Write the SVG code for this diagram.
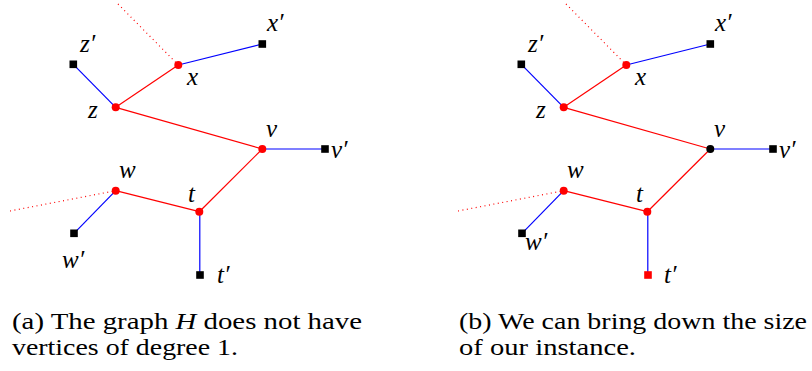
<svg xmlns="http://www.w3.org/2000/svg" width="812" height="371" viewBox="0 0 812 371">
<style>
.r{stroke:#ff0000;stroke-width:1.2;fill:none}
.b{stroke:#0000ff;stroke-width:1.2;fill:none}
.d{stroke:#ff0000;stroke-width:1.2;stroke-dasharray:1 3.5;fill:none}
.vn{fill:#ff0000}
.lf{fill:#000}
</style>
<rect width="812" height="371" fill="#fff"/>
<g id="panel-a">
<g id="edges-a">
<line class="d" x1="118" y1="4" x2="178.3" y2="65"/>
<line class="d" x1="10" y1="211" x2="115.7" y2="190.7"/>
<line class="b" x1="178.3" y1="65" x2="262.3" y2="44"/>
<line class="b" x1="73.3" y1="64.3" x2="115.7" y2="107.3"/>
<line class="r" x1="115.7" y1="107.3" x2="178.3" y2="65"/>
<line class="r" x1="115.7" y1="107.3" x2="262.3" y2="149"/>
<line class="b" x1="262.3" y1="149" x2="325" y2="149"/>
<line class="r" x1="262.3" y1="149" x2="199.3" y2="211.7"/>
<line class="r" x1="115.7" y1="190.7" x2="199.3" y2="211.7"/>
<line class="b" x1="115.7" y1="190.7" x2="74" y2="233.3"/>
<line class="b" x1="199.8" y1="211.7" x2="199.8" y2="275"/>
</g>
<g id="a-x"><circle class="vn" cx="178.3" cy="65" r="4"/><text x="187" y="85" font-family="Liberation Serif" font-style="italic" font-size="25">x</text></g>
<g id="a-xp"><rect class="lf" x="258.5" y="40.2" width="7.6" height="7.6"/><text x="267" y="31" font-family="Liberation Serif" font-style="italic" font-size="25">x′</text></g>
<g id="a-z"><circle class="vn" cx="115.7" cy="107.3" r="4"/><text x="88" y="118" font-family="Liberation Serif" font-style="italic" font-size="25">z</text></g>
<g id="a-zp"><rect class="lf" x="69.5" y="60.5" width="7.6" height="7.6"/><text x="80" y="52" font-family="Liberation Serif" font-style="italic" font-size="25">z′</text></g>
<g id="a-v"><circle class="vn" cx="262.3" cy="149" r="4"/><text x="266" y="137" font-family="Liberation Serif" font-style="italic" font-size="25">v</text></g>
<g id="a-vp"><rect class="lf" x="321.2" y="145.2" width="7.6" height="7.6"/><text x="331" y="158" font-family="Liberation Serif" font-style="italic" font-size="25">v′</text></g>
<g id="a-w"><circle class="vn" cx="115.7" cy="190.7" r="4"/><text x="119" y="178" font-family="Liberation Serif" font-style="italic" font-size="25">w</text></g>
<g id="a-wp"><rect class="lf" x="70.2" y="229.5" width="7.6" height="7.6"/><text x="62" y="268" font-family="Liberation Serif" font-style="italic" font-size="25">w′</text></g>
<g id="a-t"><circle class="vn" cx="199.3" cy="211.7" r="4"/><text x="188" y="202" font-family="Liberation Serif" font-style="italic" font-size="25">t</text></g>
<g id="a-tp"><rect class="lf" x="196.2" y="271.2" width="7.6" height="7.6"/><text x="217" y="283" font-family="Liberation Serif" font-style="italic" font-size="25">t′</text></g>
<g id="caption-a">
<text x="12" y="329" font-family="Liberation Serif" font-size="24" textLength="350" lengthAdjust="spacingAndGlyphs">(a) The graph <tspan font-style="italic">H</tspan> does not have</text>
<text x="12" y="355" font-family="Liberation Serif" font-size="24" textLength="226" lengthAdjust="spacingAndGlyphs">vertices of degree 1.</text>
</g>
</g>
<g id="panel-b">
<g id="edges-b">
<line class="d" x1="566" y1="4" x2="626.3" y2="65"/>
<line class="d" x1="458" y1="211" x2="563.7" y2="190.7"/>
<line class="b" x1="626.3" y1="65" x2="710.3" y2="44"/>
<line class="b" x1="521.3" y1="64.3" x2="563.7" y2="107.3"/>
<line class="r" x1="563.7" y1="107.3" x2="626.3" y2="65"/>
<line class="r" x1="563.7" y1="107.3" x2="710.3" y2="149"/>
<line class="b" x1="710.3" y1="149" x2="773" y2="149"/>
<line class="r" x1="710.3" y1="149" x2="647.3" y2="211.7"/>
<line class="r" x1="563.7" y1="190.7" x2="647.3" y2="211.7"/>
<line class="b" x1="563.7" y1="190.7" x2="522" y2="233.3"/>
<line class="b" x1="647.8" y1="211.7" x2="647.8" y2="275"/>
</g>
<g id="b-x"><circle class="vn" cx="626.3" cy="65" r="4"/><text x="635" y="85" font-family="Liberation Serif" font-style="italic" font-size="25">x</text></g>
<g id="b-xp"><rect class="lf" x="706.5" y="40.2" width="7.6" height="7.6"/><text x="715" y="31" font-family="Liberation Serif" font-style="italic" font-size="25">x′</text></g>
<g id="b-z"><circle class="vn" cx="563.7" cy="107.3" r="4"/><text x="536" y="118" font-family="Liberation Serif" font-style="italic" font-size="25">z</text></g>
<g id="b-zp"><rect class="lf" x="517.5" y="60.5" width="7.6" height="7.6"/><text x="528" y="52" font-family="Liberation Serif" font-style="italic" font-size="25">z′</text></g>
<g id="b-v"><circle class="lf" cx="710.3" cy="149" r="4"/><text x="714" y="137" font-family="Liberation Serif" font-style="italic" font-size="25">v</text></g>
<g id="b-vp"><rect class="lf" x="769.2" y="145.2" width="7.6" height="7.6"/><text x="779" y="158" font-family="Liberation Serif" font-style="italic" font-size="25">v′</text></g>
<g id="b-w"><circle class="vn" cx="563.7" cy="190.7" r="4"/><text x="567" y="178" font-family="Liberation Serif" font-style="italic" font-size="25">w</text></g>
<g id="b-wp"><rect class="lf" x="518.2" y="229.5" width="7.6" height="7.6"/><text x="525" y="250" font-family="Liberation Serif" font-style="italic" font-size="25">w′</text></g>
<g id="b-t"><circle class="vn" cx="647.3" cy="211.7" r="4"/><text x="636" y="202" font-family="Liberation Serif" font-style="italic" font-size="25">t</text></g>
<g id="b-tp"><rect class="vn" x="644.2" y="271.2" width="7.6" height="7.6"/><text x="664" y="283" font-family="Liberation Serif" font-style="italic" font-size="25">t′</text></g>
<g id="caption-b">
<text x="459" y="329" font-family="Liberation Serif" font-size="24" textLength="348" lengthAdjust="spacingAndGlyphs">(b) We can bring down the size</text>
<text x="459" y="355" font-family="Liberation Serif" font-size="24" textLength="177" lengthAdjust="spacingAndGlyphs">of our instance.</text>
</g>
</g>
</svg>
